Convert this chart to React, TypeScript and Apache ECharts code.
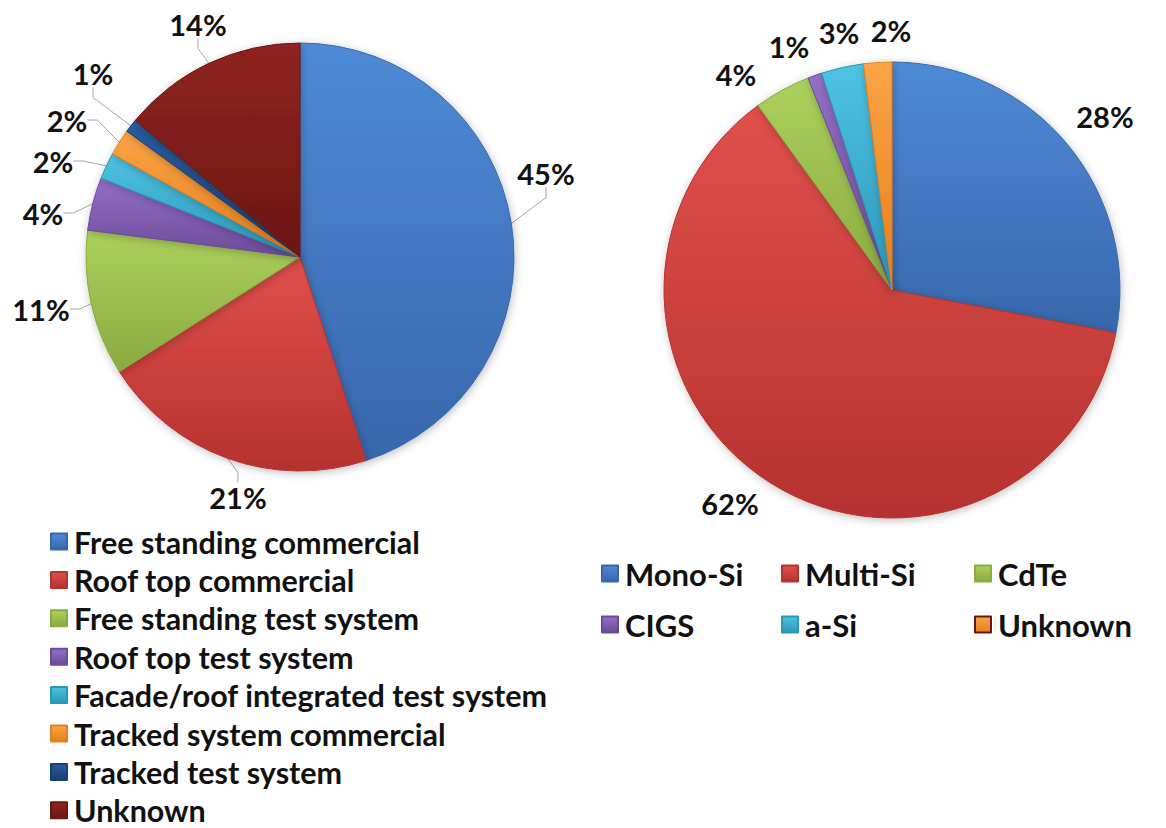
import React, { useEffect, useRef } from "react";
import * as echarts from "echarts";

// Installation type shares (left pie), clockwise from 12 o'clock
const installCategories = [
  "Free standing commercial",
  "Roof top commercial",
  "Free standing test system",
  "Roof top test system",
  "Facade/roof integrated test system",
  "Tracked system commercial",
  "Tracked test system",
  "Unknown",
];
const installShares = [45, 21, 11, 4, 2, 2, 1, 14];

// Module technology shares (right pie)
const techCategories = ["Mono-Si", "Multi-Si", "CdTe", "CIGS", "a-Si", "Unknown"];
const techShares = [28, 62, 4, 1, 3, 2];

// Right legend columns
const techLegendColumns = [
  ["Mono-Si", "CIGS"],
  ["Multi-Si", "a-Si"],
  ["CdTe", "Unknown"],
];

// [light, dark] pairs for the bevelled slice look
const PALETTE: Record<string, [string, string]> = {
  blue: ["#4f8ad6", "#3767ac"],
  red: ["#e0504b", "#b5322f"],
  green: ["#acd15c", "#89ab40"],
  purple: ["#9470c4", "#6c4b9a"],
  cyan: ["#4fc3e3", "#2b97b8"],
  orange: ["#fba446", "#e57f1c"],
  navy: ["#2a5c9c", "#193f73"],
  maroon: ["#8f2420", "#6c1613"],
};

const installColorKeys = ["blue", "red", "green", "purple", "cyan", "orange", "navy", "maroon"];
const techColorKeys = ["blue", "red", "green", "purple", "cyan", "orange"];

// label anchor points (px) for each slice's percentage
const installLabelPos: [number, number][] = [
  [546, 173],
  [238, 497],
  [41, 309],
  [43, 213],
  [53, 161],
  [67, 120],
  [93, 73],
  [198, 24],
];
const techLabelPos: [number, number][] = [
  [1105, 116],
  [730, 503],
  [736, 74],
  [789, 46],
  [839, 32],
  [891, 30],
];

const FONT = "Lato";

function grad(key: string) {
  const [a, b] = PALETTE[key];
  return new echarts.graphic.LinearGradient(0, 0, 0, 1, [
    { offset: 0, color: a },
    { offset: 1, color: b },
  ]);
}

export default function App() {
  const ref = useRef<HTMLDivElement>(null);

  useEffect(() => {
    if (!ref.current) return;
    const chart = echarts.init(ref.current, undefined, { renderer: "svg" });

    const installData = installCategories.map((name, i) => ({
      name,
      value: installShares[i],
      itemStyle: { color: grad(installColorKeys[i]), borderColor: PALETTE[installColorKeys[i]][1] },
    }));
    const techData = techCategories.map((name, i) => ({
      name,
      value: techShares[i],
      itemStyle: { color: grad(techColorKeys[i]), borderColor: PALETTE[techColorKeys[i]][1] },
    }));

    const labelStyle = {
      show: true,
      formatter: "{d}%",
      fontFamily: FONT,
      fontWeight: "bold" as const,
      fontSize: 29,
      color: "#111",
    };

    const legendText = (size: number) => ({
      fontFamily: FONT,
      fontWeight: "bold" as const,
      fontSize: size,
      color: "#111",
      padding: [0, 0, 0, 2],
    });

    const techLegends = techLegendColumns.map((col, ci) => ({
      orient: "vertical" as const,
      left: [601, 781, 974][ci],
      top: 558,
      padding: 0,
      height: 200,
      icon: "rect",
      itemWidth: 16,
      itemHeight: 16,
      itemGap: 20,
      selectedMode: false,
      textStyle: legendText(31),
      data: col.map((name) => {
        const idx = techCategories.indexOf(name);
        return { name, itemStyle: { color: grad(techColorKeys[idx]) } };
      }),
    }));

    chart.setOption({
      animation: false,
      backgroundColor: "#ffffff",
      legend: [
        {
          orient: "vertical",
          left: 50,
          top: 526,
          padding: 0,
          height: 320,
          icon: "rect",
          itemWidth: 16,
          itemHeight: 16,
          itemGap: 7.4,
          selectedMode: false,
          textStyle: legendText(30.5),
          data: installCategories.map((name, i) => ({
            name,
            itemStyle: { color: grad(installColorKeys[i]) },
          })),
        },
        ...techLegends,
      ],
      series: [
        {
          type: "pie",
          center: [300, 257],
          radius: 214,
          startAngle: 90,
          clockwise: true,
          avoidLabelOverlap: false,
          itemStyle: {
            borderWidth: 1,
            shadowBlur: 8,
            shadowColor: "rgba(0,0,0,0.25)",
            shadowOffsetX: 1,
            shadowOffsetY: 2,
          },
          label: labelStyle,
          labelLine: { show: true, length: 10, length2: 10, lineStyle: { color: "#a6a6a6", width: 1 } },
          labelLayout: (p: any) => ({
            x: installLabelPos[p.dataIndex][0],
            y: installLabelPos[p.dataIndex][1],
            align: "center",
            verticalAlign: "middle",
          }),
          data: installData,
        },
        {
          type: "pie",
          center: [892, 290],
          radius: 228,
          startAngle: 90,
          clockwise: true,
          avoidLabelOverlap: false,
          itemStyle: {
            borderWidth: 1,
            shadowBlur: 8,
            shadowColor: "rgba(0,0,0,0.25)",
            shadowOffsetX: 1,
            shadowOffsetY: 2,
          },
          label: labelStyle,
          labelLine: { show: false },
          labelLayout: (p: any) => ({
            x: techLabelPos[p.dataIndex][0],
            y: techLabelPos[p.dataIndex][1],
            align: "center",
            verticalAlign: "middle",
          }),
          data: techData,
        },
      ],
    });

    return () => chart.dispose();
  }, []);

  return (
    <div
      ref={ref}
      style={{ position: "fixed", left: 0, top: 0, width: 1166, height: 828 }}
    />
  );
}
